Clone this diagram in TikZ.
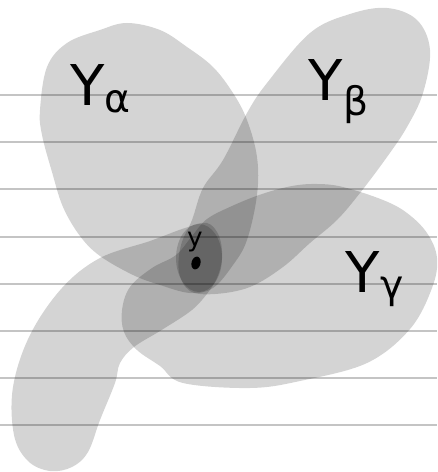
\documentclass[tikz,border=0pt]{standalone}
\usepackage{fontspec}
\setmainfont{DejaVu Sans}
\usepackage{tikz}
\definecolor{ruleline}{RGB}{196,196,196}
\tikzset{
  rule/.style={draw=ruleline,line width=1.1pt},
  blob/.style={fill=black,fill opacity=0.17,draw=none},
  setname/.style={font=\fontsize{32}{35}\selectfont,inner sep=0pt,text=black},
  ptname/.style={font=\fontsize{15}{17}\selectfont,inner sep=0pt,text=black},
}

\begin{document}
\begin{tikzpicture}[x=0.02cm,y=-0.02cm]
  \useasboundingbox (0,0) rectangle (437,472);
  % notebook rules
  \foreach \yy in {95,142,189,237,284,331,378,425}
    \draw[rule] (0,\yy) -- (437,\yy);
  % Y alpha
  \fill[blob] plot[smooth cycle,tension=0.6] coordinates {
    (40,110) (47,67) (67,43) (100,30) (127,23) (160,30) (187,47) (213,67)
    (233,93) (247,120) (257,157) (257,195) (247,240) (233,265) (213,288)
    (190,293) (160,285) (133,275) (100,256) (80,236) (63,207) (52,172) (42,135)};
  % Y beta
  \fill[blob] plot[smooth cycle,tension=0.6] coordinates {
    (387,8) (417,20) (430,50) (423,93) (407,127) (387,157) (360,193) (337,220)
    (310,243) (283,267) (250,287) (215,294) (190,291) (179,272) (181,245)
    (192,220) (203,188) (223,160) (247,113) (267,83) (310,33) (350,14)};
  % Y gamma, right part
  \fill[blob] plot[smooth cycle,tension=0.6] coordinates {
    (122,310) (130,287) (152,268) (176,255) (192,236) (207,219) (232,206)
    (262,194) (292,186) (317,184) (343,187) (383,200) (407,213) (427,233)
    (437,258) (432,288) (410,329) (367,363) (300,381) (250,388) (183,383)
    (160,366) (137,350) (124,332)};
  % Y gamma, leg
  \fill[blob] plot[smooth cycle,tension=0.6] coordinates {
    (50,471) (28,461) (14,435) (13,387) (30,335) (62,288) (100,258) (150,241)
    (185,228) (207,223) (219,236) (222,258) (216,280) (202,300)
    (188,313) (160,331) (134,347) (120,363) (115,383) (100,420) (88,452) (72,467)};
  % neighbourhood of y
  \fill[blob] (199,258) ellipse [x radius=23,y radius=34];
  % labels
  \node[setname] (ya) at (101,89) {Y\textsubscript{α}};
  \node[setname] (yb) at (339,92) {Y\textsubscript{β}};
  \node[setname] (yg) at (375,279) {Y\textsubscript{γ}};
  \node[ptname] (y) at (195,242) {y};
  \fill[rotate around={-15:(196,263)}] (196,263) ellipse [x radius=4.5,y radius=6.5];
\end{tikzpicture}
\end{document}
